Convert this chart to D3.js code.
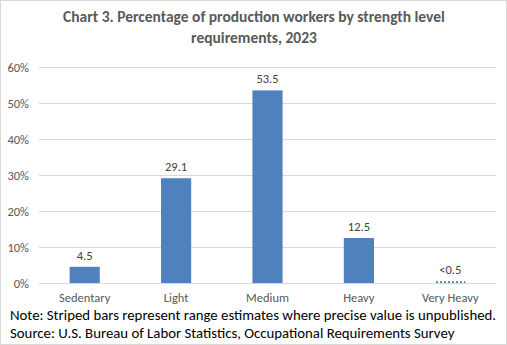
<!DOCTYPE html>
<html>
<head>
<meta charset="utf-8">
<script src="https://cdn.jsdelivr.net/npm/d3@7"></script>
<style>
  body { margin: 0; background: #fff; }
  svg { display: block; }
</style>
</head>
<body>
<script>
// strength levels and their shares of production workers (percent)
const levels = ["Sedentary", "Light", "Medium", "Heavy", "Very Heavy"];
const shares = [4.5, 29.1, 53.5, 12.5, 0.5];
const labels = ["4.5", "29.1", "53.5", "12.5", "<0.5"];
const ranged = [false, false, false, false, true];
const yTicks = [0, 10, 20, 30, 40, 50, 60];

const width = 507, height = 345,
  margin = {top: 67, right: 11, bottom: 62, left: 39};
const font = "Carlito, Calibri, 'Liberation Sans', sans-serif";

const svg = d3.select("body").append("svg")
  .attr("width", width).attr("height", height)
  .style("font-family", font);

// striped fill for range estimates
const pat = svg.append("defs").append("pattern")
  .attr("id", "stripes")
  .attr("patternUnits", "userSpaceOnUse")
  .attr("width", 4).attr("height", 4);
pat.append("rect").attr("width", 2).attr("height", 4).attr("fill", "#4f81bd");

svg.append("rect")
  .attr("x", 0.5).attr("y", 0.5)
  .attr("width", width - 1).attr("height", height - 1)
  .attr("fill", "#fff").attr("stroke", "#d9d9d9");

const title = svg.append("text")
  .attr("text-anchor", "middle")
  .attr("fill", "#595959")
  .attr("font-size", 15.5)
  .attr("font-weight", "bold");
title.append("tspan").attr("x", 254).attr("y", 22)
  .text("Chart 3. Percentage of production workers by strength level");
title.append("tspan").attr("x", 254).attr("y", 43)
  .text("requirements, 2023");

const x = d3.scaleBand()
  .domain(levels)
  .range([margin.left, width - margin.right])
  .paddingInner(0.67).paddingOuter(0.335);

const y = d3.scaleLinear()
  .domain([0, 60])
  .range([height - margin.bottom, margin.top]);

// gridlines + y labels
const yAxis = svg.append("g")
  .attr("transform", "translate(" + margin.left + ",0)")
  .call(d3.axisLeft(y).tickValues(yTicks).tickFormat(d => d + "%")
    .tickSize(-(width - margin.left - margin.right)).tickPadding(10));
yAxis.select(".domain").remove();
yAxis.selectAll("line").attr("stroke", "#d9d9d9");
yAxis.selectAll("text").attr("fill", "#595959").attr("font-size", 12.5)
  .style("font-family", font);

const xAxis = svg.append("g")
  .attr("transform", "translate(0," + (height - margin.bottom) + ")")
  .call(d3.axisBottom(x).tickSize(0).tickPadding(10));
xAxis.select(".domain").remove();
xAxis.selectAll("text").attr("fill", "#595959").attr("font-size", 12.5)
  .style("font-family", font);

svg.append("g").selectAll("rect")
  .data(levels)
  .join("rect")
  .attr("x", d => x(d))
  .attr("width", x.bandwidth())
  .attr("y", (d, i) => y(shares[i]))
  .attr("height", (d, i) => y(0) - y(shares[i]))
  .attr("fill", (d, i) => ranged[i] ? "url(#stripes)" : "#4f81bd");

svg.append("g").selectAll("text")
  .data(levels)
  .join("text")
  .attr("x", d => x(d) + x.bandwidth() / 2)
  .attr("y", (d, i) => y(shares[i]) - 7)
  .attr("text-anchor", "middle")
  .attr("fill", "#404040")
  .attr("font-size", 12.5)
  .text((d, i) => labels[i]);

const notes = svg.append("text")
  .attr("fill", "#000")
  .attr("font-size", 14.8);
notes.append("tspan").attr("x", 10).attr("y", 320)
  .text("Note: Striped bars represent range estimates where precise value is unpublished.");
notes.append("tspan").attr("x", 10).attr("y", 338)
  .text("Source: U.S. Bureau of Labor Statistics, Occupational Requirements Survey");
</script>
</body>
</html>
